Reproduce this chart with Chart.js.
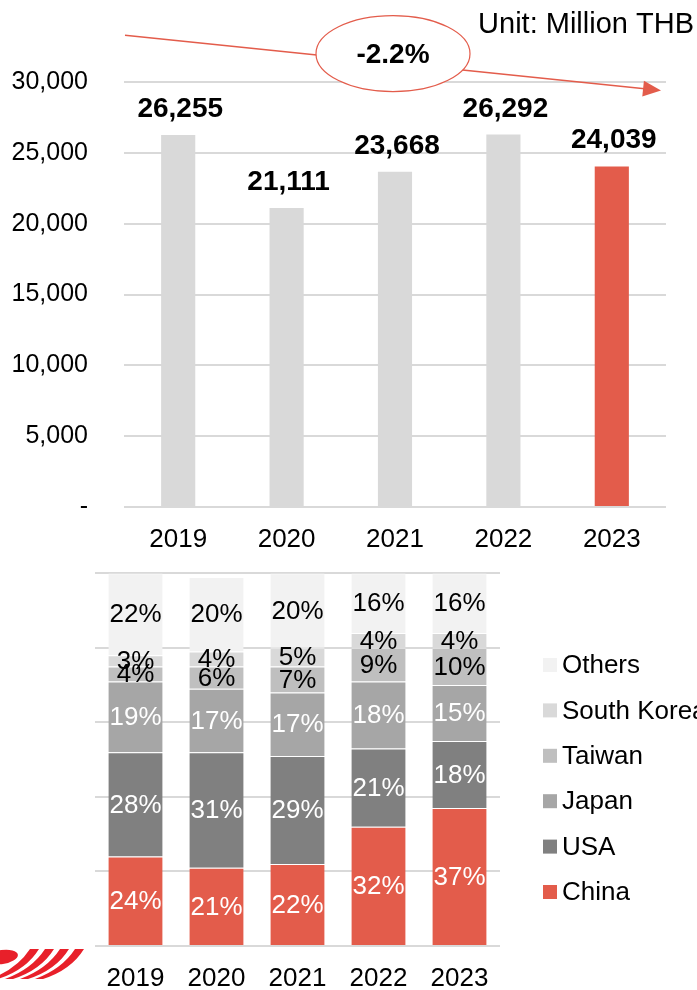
<!DOCTYPE html>
<html>
<head>
<meta charset="utf-8">
<title>Sales and export share</title>
<script src="https://cdn.jsdelivr.net/npm/chart.js@4.4.0/dist/chart.umd.min.js"></script>
<style>
  html, body { margin: 0; padding: 0; background: #fff; }
  body { width: 697px; height: 990px; position: relative; overflow: hidden; }
  #salesChart { position: absolute; left: 0; top: 0; }
  #shareChart { position: absolute; left: 0; top: 560px; }
</style>
</head>
<body>
<canvas id="salesChart" width="697" height="560"></canvas>
<canvas id="shareChart" width="697" height="430"></canvas>
<script>
// yearly sales, million THB
const years = ['2019', '2020', '2021', '2022', '2023'];
const salesValues = [26255, 21111, 23668, 26292, 24039];
const salesTicks = [0, 5000, 10000, 15000, 20000, 25000, 30000];

// trend arrow drawn over the bars (value axis units)
const trendFrom = 33300;
const trendTo = 29400;
const trendBubble = 32000;

// share by destination, % of each year
const countries = ['China', 'USA', 'Japan', 'Taiwan', 'South Korea', 'Others'];
const chinaShare = [24, 21, 22, 32, 37];
const usaShare = [28, 31, 29, 21, 18];
const japanShare = [19, 17, 17, 18, 15];
const taiwanShare = [4, 6, 7, 9, 10];
const koreaShare = [3, 4, 5, 4, 4];
const othersShare = [22, 20, 20, 16, 16];
const shareTicks = [0, 20, 40, 60, 80, 100];

const RED = '#e35c4b';
const FONT = '"Liberation Sans", Arial, sans-serif';
Chart.defaults.font.family = FONT;
Chart.defaults.color = '#000';

// compound annual growth between first and last year
const cagr = Math.pow(salesValues[salesValues.length - 1] / salesValues[0], 1 / (salesValues.length - 1)) - 1;

const salesDecor = {
  id: 'salesDecor',
  afterDatasetsDraw(chart) {
    const ctx = chart.ctx;
    const area = chart.chartArea;
    const y = chart.scales.y;
    const meta = chart.getDatasetMeta(0);

    ctx.save();
    // value labels on top of the bars
    ctx.font = 'bold 28px ' + FONT;
    ctx.fillStyle = '#000';
    ctx.textAlign = 'center';
    ctx.textBaseline = 'alphabetic';
    meta.data.forEach((bar, i) => {
      ctx.fillText(salesValues[i].toLocaleString('en-US'), bar.x + 2, bar.y - 18);
    });

    // trend arrow
    const x0 = area.left + 1, y0 = y.getPixelForValue(trendFrom);
    const x1 = area.right - 5, y1 = y.getPixelForValue(trendTo);
    const ang = Math.atan2(y1 - y0, x1 - x0);
    ctx.strokeStyle = RED;
    ctx.fillStyle = RED;
    ctx.lineWidth = 1.5;
    ctx.beginPath();
    ctx.moveTo(x0, y0);
    ctx.lineTo(x1 - 14 * Math.cos(ang), y1 - 14 * Math.sin(ang));
    ctx.stroke();
    ctx.beginPath();
    ctx.moveTo(x1, y1);
    ctx.lineTo(x1 - 18 * Math.cos(ang) + 8 * Math.sin(ang), y1 - 18 * Math.sin(ang) - 8 * Math.cos(ang));
    ctx.lineTo(x1 - 18 * Math.cos(ang) - 8 * Math.sin(ang), y1 - 18 * Math.sin(ang) + 8 * Math.cos(ang));
    ctx.closePath();
    ctx.fill();

    // growth bubble
    const cx = (area.left + area.right) / 2 - 2;
    const cy = y.getPixelForValue(trendBubble);
    ctx.beginPath();
    ctx.ellipse(cx, cy, 77, 38, 0, 0, Math.PI * 2);
    ctx.fillStyle = '#fff';
    ctx.fill();
    ctx.lineWidth = 1.2;
    ctx.stroke();
    ctx.fillStyle = '#000';
    ctx.font = 'bold 28px ' + FONT;
    ctx.textBaseline = 'middle';
    ctx.fillText((cagr * 100).toFixed(1) + '%', cx, cy + 2);

    // unit note
    ctx.font = '29px ' + FONT;
    ctx.textAlign = 'right';
    ctx.textBaseline = 'alphabetic';
    ctx.fillText('Unit: Million THB', 694, 33);
    ctx.restore();
  }
};

new Chart(document.getElementById('salesChart'), {
  type: 'bar',
  data: {
    labels: years,
    datasets: [{
      data: salesValues,
      backgroundColor: years.map((yr, i) => i === years.length - 1 ? RED : '#d9d9d9'),
      barPercentage: 0.315,
      categoryPercentage: 1
    }]
  },
  options: {
    responsive: false,
    animation: false,
    layout: { padding: { top: 82, right: 31, left: 0, bottom: 0 } },
    plugins: { legend: { display: false }, tooltip: { enabled: false } },
    scales: {
      x: {
        grid: { display: false },
        border: { display: false },
        afterFit: s => { s.height = 53; },
        ticks: { font: { size: 26 }, padding: 9 }
      },
      y: {
        min: 0,
        max: 30000,
        afterBuildTicks: s => { s.ticks = salesTicks.map(v => ({ value: v })); },
        afterFit: s => { s.width = 124; },
        grid: { color: '#d9d9d9', lineWidth: 2, drawTicks: false },
        border: { display: false },
        ticks: {
          font: { size: 25 },
          padding: 36,
          callback: v => v === 0 ? '-' : v.toLocaleString('en-US')
        }
      }
    }
  },
  plugins: [salesDecor]
});

const shareSeries = [chinaShare, usaShare, japanShare, taiwanShare, koreaShare, othersShare];
const shareColors = [RED, '#808080', '#a6a6a6', '#bfbfbf', '#d9d9d9', '#f2f2f2'];
const shareText = ['#fff', '#fff', '#fff', '#000', '#000', '#000'];

const shareDecor = {
  id: 'shareDecor',
  afterDatasetsDraw(chart) {
    const ctx = chart.ctx;
    ctx.save();
    ctx.font = '26px ' + FONT;
    ctx.textAlign = 'center';
    ctx.textBaseline = 'middle';
    chart.data.datasets.forEach((ds, d) => {
      ctx.fillStyle = shareText[d];
      chart.getDatasetMeta(d).data.forEach((bar, i) => {
        ctx.fillText(ds.data[i] + '%', bar.x, (bar.y + bar.base) / 2 + 1);
      });
    });
    ctx.restore();
  },
  afterDraw(chart) {
    const ctx = chart.ctx;
    ctx.save();
    // legend, top entry is the top segment
    ctx.font = '26px ' + FONT;
    ctx.textAlign = 'left';
    ctx.textBaseline = 'middle';
    const items = chart.data.datasets.slice().reverse();
    items.forEach((ds, k) => {
      const ly = 105 + k * 45.4;
      ctx.fillStyle = ds.backgroundColor;
      ctx.fillRect(543, ly - 7, 14, 14);
      ctx.fillStyle = '#000';
      ctx.fillText(ds.label, 562, ly + 1);
    });

    // company mark, lower left
    ctx.fillStyle = '#e8202a';
    ctx.beginPath();
    ctx.ellipse(2, 397, 16, 7, -0.15, 0, Math.PI * 2);
    ctx.fill();
    for (let k = 0; k < 4; k++) {
      const tx = 30 + k * 15;
      ctx.beginPath();
      ctx.moveTo(tx, 389);
      ctx.lineTo(tx + 9, 389);
      ctx.quadraticCurveTo(tx - 4, 410, tx - 32, 419);
      ctx.lineTo(tx - 40, 419);
      ctx.quadraticCurveTo(tx - 13, 409, tx, 389);
      ctx.closePath();
      ctx.fill();
    }
    ctx.restore();
  }
};

new Chart(document.getElementById('shareChart'), {
  type: 'bar',
  data: {
    labels: years,
    datasets: countries.map((c, i) => ({
      label: c,
      data: shareSeries[i],
      backgroundColor: shareColors[i],
      borderColor: 'rgba(255,255,255,0.5)',
      borderWidth: { top: 1, left: 0, right: 0, bottom: 0 },
      borderSkipped: false,
      barPercentage: 0.67,
      categoryPercentage: 1
    }))
  },
  options: {
    responsive: false,
    animation: false,
    layout: { padding: { top: 13.3, right: 197, left: 0, bottom: 0 } },
    plugins: { legend: { display: false }, tooltip: { enabled: false } },
    scales: {
      x: {
        stacked: true,
        grid: { display: false },
        border: { display: false },
        afterFit: s => { s.height = 44; },
        ticks: { font: { size: 26 }, padding: 9 }
      },
      y: {
        stacked: true,
        min: 0,
        max: 100,
        afterBuildTicks: s => { s.ticks = shareTicks.map(v => ({ value: v })); },
        afterFit: s => { s.width = 95; },
        grid: { color: '#d9d9d9', lineWidth: 2, drawTicks: false },
        border: { display: false },
        ticks: { display: false }
      }
    }
  },
  plugins: [shareDecor]
});
</script>
</body>
</html>
